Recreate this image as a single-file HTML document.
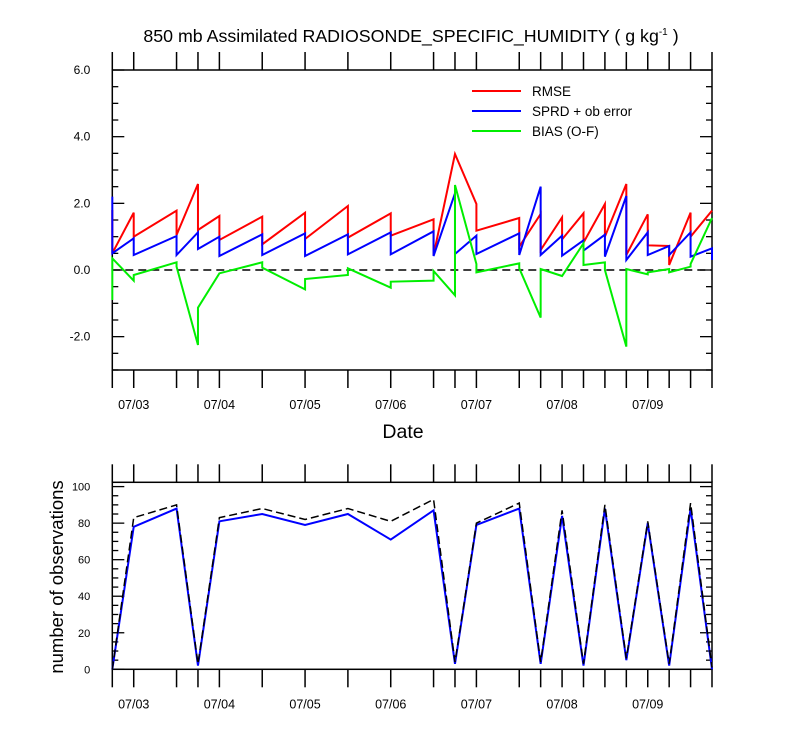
<!DOCTYPE html>
<html><head><meta charset="utf-8"><style>
html,body{margin:0;padding:0;background:#fff}
svg{display:block;font-family:"Liberation Sans",Arial,sans-serif}
</style></head><body>
<svg id="c" width="800" height="750" viewBox="0 0 800 750" xmlns="http://www.w3.org/2000/svg">
<text x="411" y="42" font-size="17.8" text-anchor="middle">850 mb Assimilated RADIOSONDE_SPECIFIC_HUMIDITY ( g kg<tspan dy="-7" font-size="10">-1</tspan><tspan dy="7"> )</tspan></text>
<text x="403" y="438" font-size="19.5" text-anchor="middle">Date</text>
<text transform="translate(63,577) rotate(-90)" font-size="18.5" text-anchor="middle">number of observations</text>
<g id="topg"></g><g id="botg"></g>
</svg>
<script>
// time indices in 6-hour steps from 07/02 18Z
const times=[0,1,3,4,5,7,9,11,13,15,16,17,19,20,21,22,23,24,25,26,27,28];
const rmsePrior=[1.8,1.72,1.78,2.58,1.62,1.6,1.72,1.92,1.7,1.52,3.48,1.98,1.56,1.68,1.58,1.7,1.98,2.58,1.67,0.72,1.72,1.78];
const rmsePost =[0.5,1.0,1.05,1.2,0.9,0.77,0.93,0.97,1.03,0.45,3.48,1.18,0.7,0.6,0.92,0.82,1.0,0.45,0.74,0.15,1.0,1.78];
const sprdPrior=[2.2,0.95,1.02,1.13,1.0,1.07,1.1,1.07,1.13,1.16,2.3,1.03,1.1,2.5,1.03,0.89,1.06,2.22,1.13,0.72,1.13,0.65];
const sprdPost =[0.5,0.45,0.45,0.63,0.42,0.45,0.42,0.47,0.47,0.42,0.48,0.48,0.45,0.45,0.43,0.58,0.4,0.3,0.45,0.45,0.4,0.3];
const biasPrior=[-0.9,-0.32,0.23,-2.25,-0.1,0.23,-0.58,-0.15,-0.53,-0.32,-0.76,0.18,0.2,-1.43,-0.18,0.8,0.23,-2.3,-0.13,0.03,0.1,1.56];
const biasPost =[0.35,-0.15,0.1,-1.13,-0.1,0.07,-0.27,0.05,-0.35,-0.03,2.55,-0.07,0.05,0.03,-0.18,0.15,0.0,0.03,-0.07,-0.07,0.18,1.56];
const obsUsed =[0,78,88,2,81,85,79,85,71,87,3,79,88,3,84,2,88,5,80,2,88,0];
const obsPoss =[0,83,90,3,83,88,82,88,81,93,4,80,91,4,87,3,90,6,81,3,91,1];
const dayLabels=["07/03","07/04","07/05","07/06","07/07","07/08","07/09"];
const dayTimes=[1,5,9,13,17,21,25];
const topTicks=[-2,0,2,4,6];
const botTicks=[0,20,40,60,80,100];

const NS="http://www.w3.org/2000/svg";
const X0=112.3,X1=712;
const xs=t=>X0+(X1-X0)*t/28;
const yT=v=>270-v*33.33;
const yB=v=>669.3-v*1.827;
function mk(p,tag,at){const e=document.createElementNS(NS,tag);for(const k in at)e.setAttribute(k,at[k]);p.appendChild(e);return e;}
const gTop=document.getElementById('topg'),gBot=document.getElementById('botg');

function frame(g,yTop,yBot,fy,vmin,vmax,minor,major,labels,fmt,prefix){
  const r=mk(g,'rect',{x:X0,y:yTop,width:X1-X0,height:yBot-yTop,fill:'none',stroke:'#000','stroke-width':1.5});
  
  
  for(let v=vmin;v<=vmax+1e-9;v+=minor){
    const y=fy(v);const isMaj=Math.abs(v/major-Math.round(v/major))<1e-6;const L=isMaj?12:6;
    mk(g,'line',{x1:X0,x2:X0+L,y1:y,y2:y,stroke:'#000','stroke-width':1.3});
    mk(g,'line',{x1:X1,x2:X1-L,y1:y,y2:y,stroke:'#000','stroke-width':1.3});
  }
  labels.forEach(v=>{const t=mk(g,'text',{x:X0-22,y:fy(v)+4,'font-size':prefix==='top'?12:11,'text-anchor':'end'});t.textContent=fmt(v);
    
    });
  times.forEach(t=>{const x=xs(t);
    mk(g,'line',{x1:x,x2:x,y1:yTop,y2:yTop-18,stroke:'#000','stroke-width':1.5});
    mk(g,'line',{x1:x,x2:x,y1:yBot,y2:yBot+18,stroke:'#000','stroke-width':1.5});});
  dayLabels.forEach((d,i)=>{const t=mk(g,'text',{x:xs(dayTimes[i]),y:yBot+39,'font-size':12.5,'text-anchor':'middle'});t.textContent=d;
    
    });
}
frame(gTop,70,370,yT,-3,6,0.5,2,topTicks,v=>v.toFixed(1),'top');
frame(gBot,482.3,669.3,yB,0,100,5,20,botTicks,v=>String(v),'bot');

const z=mk(gTop,'line',{x1:X0,x2:X1,y1:yT(0),y2:yT(0),stroke:'#000','stroke-width':1.5,'stroke-dasharray':'8,5'});



function saw(pr,po,col,name){
  const pts=[];times.forEach((t,i)=>{pts.push(xs(t)+','+yT(pr[i]));pts.push(xs(t)+','+yT(po[i]));});
  const p=mk(gTop,'polyline',{points:pts.join(' '),fill:'none',stroke:col,'stroke-width':2});
  
  
}
saw(rmsePrior,rmsePost,'#ff0000','rmse-line');
saw(sprdPrior,sprdPost,'#0000ff','sprd-line');
saw(biasPrior,biasPost,'#00ee00','bias-line');

const leg=[['RMSE','#ff0000'],['SPRD + ob error','#0000ff'],['BIAS (O-F)','#00ee00']];
leg.forEach((l,i)=>{const y=91+i*20;
  const g=mk(gTop,'g',{});
  
  
  mk(g,'line',{x1:472,x2:521,y1:y,y2:y,stroke:l[1],'stroke-width':2});
  const t=mk(g,'text',{x:532,y:y+5,'font-size':13.5});t.textContent=l[0];});

const pu=mk(gBot,'polyline',{points:times.map((t,i)=>xs(t)+','+yB(obsUsed[i])).join(' '),fill:'none',stroke:'#0000ff','stroke-width':2});


const pp=mk(gBot,'polyline',{points:times.map((t,i)=>xs(t)+','+yB(obsPoss[i])).join(' '),fill:'none',stroke:'#000','stroke-width':1.5,'stroke-dasharray':'8,4'});


</script>
</body></html>
